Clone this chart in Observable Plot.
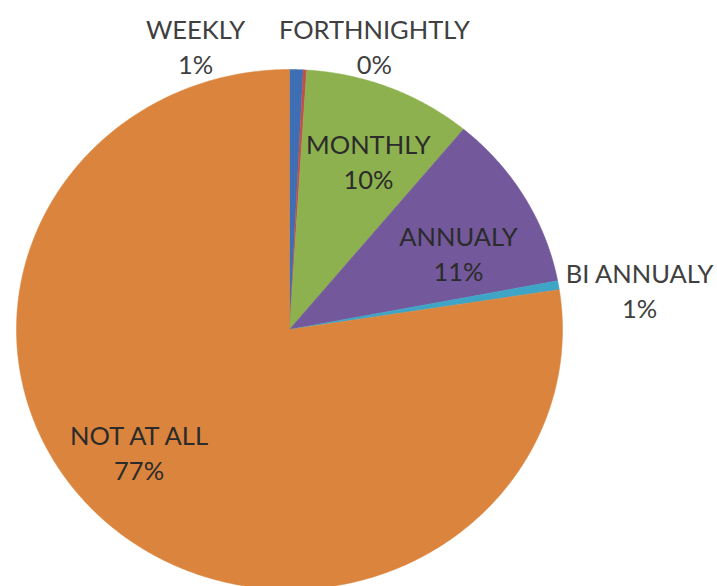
<!DOCTYPE html>
<html>
<head>
<meta charset="utf-8">
<script src="https://cdn.jsdelivr.net/npm/d3@7"></script>
<script src="https://cdn.jsdelivr.net/npm/@observablehq/plot@0.6"></script>
<style>
  html, body { margin: 0; padding: 0; background: #fff; overflow: hidden; }
  #chart svg { overflow: hidden; }
</style>
</head>
<body>
<div id="chart"></div>
<script>
// ---- data ----
const categories = ["WEEKLY", "FORTHNIGHTLY", "MONTHLY", "ANNUALY", "BI ANNUALY", "NOT AT ALL"];
const shares = [0.8, 0.2, 10.0, 11.0, 0.55, 77.45];          // percent of respondents
const percentLabels = ["1%", "0%", "10%", "11%", "1%", "77%"];
const colors = ["#3e6fb5", "#c0504d", "#8db14e", "#73589b", "#3fa5c6", "#db843d"];
// label anchor in the pie's normalized coordinates (radius = 1)
const labelX = [-0.344, 0.311, 0.289, 0.619, 1.282, -0.551];
const labelY = [1.094, 1.094, 0.652, 0.296, 0.154, -0.467];
const labelInside = [false, false, true, true, false, true];

// ---- build slice polygons from the shares ----
const total = d3.sum(shares);
const slicePts = [];
let cum = 0;
categories.forEach((c, i) => {
  const a0 = cum / total * 2 * Math.PI;
  cum += shares[i];
  const a1 = cum / total * 2 * Math.PI;
  const n = Math.max(2, Math.ceil((a1 - a0) / (Math.PI / 360)));
  slicePts.push({cat: c, x: 0, y: 0});
  for (let k = 0; k <= n; k++) {
    const a = a0 + (a1 - a0) * k / n;
    slicePts.push({cat: c, x: Math.sin(a), y: Math.cos(a)});
  }
  slicePts.push({cat: c, x: 0, y: 0});
});

const labels = categories.map((c, i) => ({
  text: c + "\n" + percentLabels[i],
  x: labelX[i], y: labelY[i], inside: labelInside[i]
}));

const W = 717, H = 586;
const cx = 289, cy = 329, rx = 273, ry = 260;

const chart = Plot.plot({
  width: W,
  height: H,
  margin: 0,
  style: {background: "#fff", overflow: "hidden"},
  x: {domain: [-1, 1], range: [cx - rx, cx + rx], axis: null},
  y: {domain: [-1, 1], range: [cy + ry, cy - ry], axis: null},
  color: {domain: categories, range: colors},
  marks: [
    Plot.line(slicePts, {x: "x", y: "y", z: "cat", fill: "cat", stroke: "cat", strokeWidth: 0.5, curve: "linear"}),
    Plot.text(labels, {
      x: "x", y: "y", text: "text",
      fill: d => d.inside ? "#2b2b2b" : "#404040",
      fontSize: 25.5,
      fontFamily: "Lato, 'Open Sans', sans-serif",
      lineHeight: 1.37,
      textAnchor: "middle",
      lineAnchor: "middle"
    })
  ]
});
document.getElementById("chart").appendChild(chart);
</script>
</body>
</html>
